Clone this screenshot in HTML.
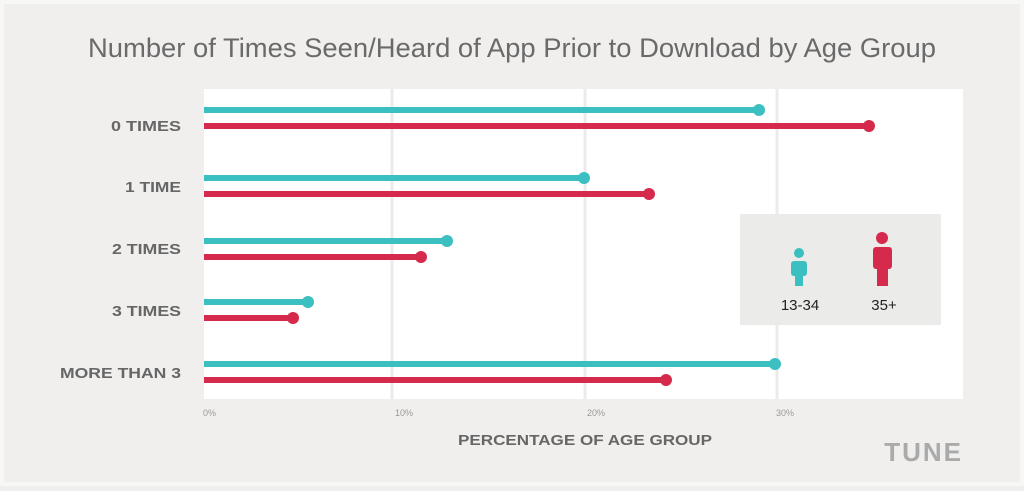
<!DOCTYPE html><html><head><style>
body{margin:0;width:1024px;height:486px;background:#f0efee;overflow:hidden;font-family:"Liberation Sans",sans-serif}
</style></head><body>
<svg width="1024" height="486" xmlns="http://www.w3.org/2000/svg">
<rect x="0" y="0" width="1024" height="486" fill="#f7f7f6"/>
<rect x="4" y="4" width="1016" height="478" fill="#f0efee"/>
<text x="512" y="57" text-anchor="middle" font-size="27" fill="#6a6a6a" font-family="Liberation Sans" textLength="848" lengthAdjust="spacingAndGlyphs">Number of Times Seen/Heard of App Prior to Download by Age Group</text>
<rect x="204" y="89" width="759" height="310" fill="#fff"/>
<g stroke="#ebebeb" stroke-width="3">
<line x1="392" y1="89" x2="392" y2="399"/><line x1="585" y1="89" x2="585" y2="399"/><line x1="777" y1="89" x2="777" y2="399"/>
</g>
<g font-size="9" fill="#999">
<text x="203" y="416">0%</text><text x="395" y="416">10%</text><text x="587" y="416">20%</text><text x="776" y="416">30%</text>
</g>
<g font-size="15" font-weight="bold" fill="#666" lengthAdjust="spacingAndGlyphs">
<text x="111" y="131" textLength="70" lengthAdjust="spacingAndGlyphs">0 TIMES</text>
<text x="125" y="192" textLength="56" lengthAdjust="spacingAndGlyphs">1 TIME</text>
<text x="112" y="254" textLength="69" lengthAdjust="spacingAndGlyphs">2 TIMES</text>
<text x="112" y="316" textLength="69" lengthAdjust="spacingAndGlyphs">3 TIMES</text>
<text x="60" y="378" textLength="121" lengthAdjust="spacingAndGlyphs">MORE THAN 3</text>
</g>
<text x="458" y="445" font-size="15" font-weight="bold" fill="#666" textLength="254" lengthAdjust="spacingAndGlyphs">PERCENTAGE OF AGE GROUP</text>
<g stroke-width="6">
<line x1="204" y1="110" x2="759" y2="110" stroke="#3bbfc0"/><line x1="204" y1="126" x2="869" y2="126" stroke="#d62a4d"/>
<line x1="204" y1="178" x2="584" y2="178" stroke="#3bbfc0"/><line x1="204" y1="194" x2="649" y2="194" stroke="#d62a4d"/>
<line x1="204" y1="241" x2="447" y2="241" stroke="#3bbfc0"/><line x1="204" y1="257" x2="421" y2="257" stroke="#d62a4d"/>
<line x1="204" y1="302" x2="308" y2="302" stroke="#3bbfc0"/><line x1="204" y1="318" x2="293" y2="318" stroke="#d62a4d"/>
<line x1="204" y1="364" x2="775" y2="364" stroke="#3bbfc0"/><line x1="204" y1="380" x2="666" y2="380" stroke="#d62a4d"/>
</g>
<g fill="#3bbfc0"><circle cx="759" cy="110" r="6"/><circle cx="584" cy="178" r="6"/><circle cx="447" cy="241" r="6"/><circle cx="308" cy="302" r="6"/><circle cx="775" cy="364" r="6"/></g>
<g fill="#d62a4d"><circle cx="869" cy="126" r="6"/><circle cx="649" cy="194" r="6"/><circle cx="421" cy="257" r="6"/><circle cx="293" cy="318" r="6"/><circle cx="666" cy="380" r="6"/></g>
<rect x="740" y="214" width="201" height="111" fill="#ebebea"/>
<g fill="#3bbfc0"><circle cx="799" cy="253" r="5"/><rect x="791" y="261" width="16" height="15" rx="3"/><rect x="795" y="270" width="8" height="16"/></g>
<g fill="#d62a4d"><circle cx="882" cy="238" r="6"/><rect x="873" y="247" width="19" height="22" rx="3"/><rect x="877" y="262" width="11" height="24"/></g>
<text x="800" y="310" text-anchor="middle" font-size="15" fill="#222">13-34</text>
<text x="884" y="310" text-anchor="middle" font-size="15" fill="#222">35+</text>
<text x="963" y="461" text-anchor="end" font-size="26" font-weight="bold" fill="#aaa" letter-spacing="2">TUNE</text>
</svg>
</body></html>
